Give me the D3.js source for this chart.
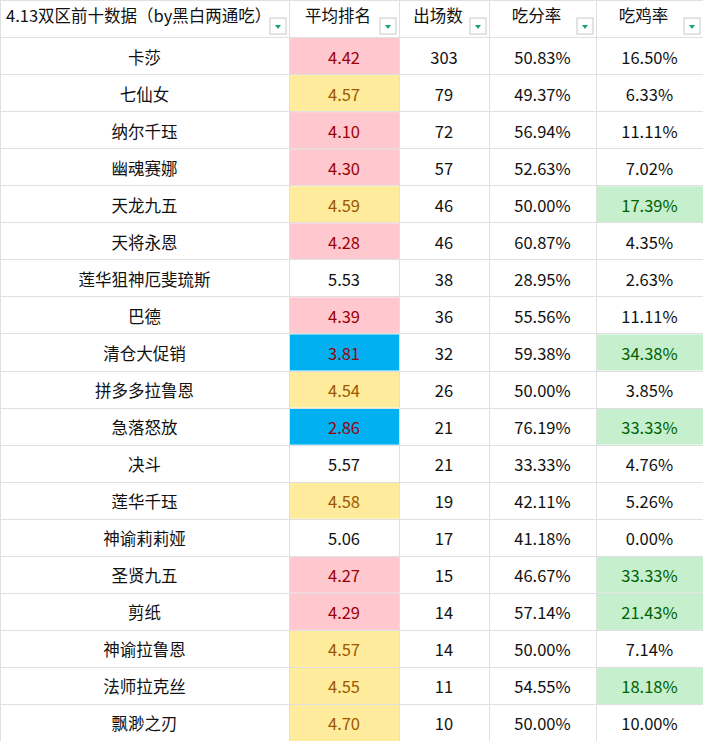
<!DOCTYPE html>
<html><head><meta charset="utf-8">
<script src="https://cdn.jsdelivr.net/npm/d3@7"></script>
<style>body{margin:0;background:#fff}</style>
</head><body>
<svg id="t" width="703" height="741"></svg>
<script>
var headers = ['4.13双区前十数据（by黑白两通吃）', '平均排名', '出场数', '吃分率', '吃鸡率'];
var names = ['卡莎', '七仙女', '纳尔千珏', '幽魂赛娜', '天龙九五', '天将永恩', '莲华狙神厄斐琉斯', '巴德', '清仓大促销', '拼多多拉鲁恩',
  '急落怒放', '决斗', '莲华千珏', '神谕莉莉娅', '圣贤九五', '剪纸', '神谕拉鲁恩', '法师拉克丝', '飘渺之刃'];
var avgRank = [4.42, 4.57, 4.10, 4.30, 4.59, 4.28, 5.53, 4.39, 3.81, 4.54, 2.86, 5.57, 4.58, 5.06, 4.27, 4.29, 4.57, 4.55, 4.70];
var games = [303, 79, 72, 57, 46, 46, 38, 36, 32, 26, 21, 21, 19, 17, 15, 14, 14, 11, 10];
var scoreRate = [50.83, 49.37, 56.94, 52.63, 50.00, 60.87, 28.95, 55.56, 59.38, 50.00, 76.19, 33.33, 42.11, 41.18, 46.67, 57.14, 50.00, 54.55, 50.00];
var winRate = [16.50, 6.33, 11.11, 7.02, 17.39, 4.35, 2.63, 11.11, 34.38, 3.85, 33.33, 4.76, 5.26, 0.00, 33.33, 21.43, 7.14, 18.18, 10.00];

var colEdges = [0, 289, 399, 489, 596, 703];
var svg = d3.select('#t');
var font = '"Noto Sans CJK SC", "Noto Sans", sans-serif';
var y = d3.scaleLinear().domain([0, names.length + 1]).range([0, 741]);
var rh = y(1) - y(0);

// conditional formats
function rankStyle(v) {
  if (v < 4) return {fill: '#00b0f0', color: '#9c0006'};
  if (v < 4.5) return {fill: '#ffc7ce', color: '#9c0006'};
  if (v < 5) return {fill: '#ffeb9c', color: '#9c5700'};
  return null;
}
function winStyle(v) { return v > 17 ? {fill: '#c6efce', color: '#006100'} : null; }

var rows = names.map(function (n, i) {
  return [
    {text: n},
    {text: avgRank[i].toFixed(2), st: rankStyle(avgRank[i])},
    {text: String(games[i])},
    {text: scoreRate[i].toFixed(2) + '%'},
    {text: winRate[i].toFixed(2) + '%', st: winStyle(winRate[i])}
  ];
});

svg.append('defs').append('clipPath').attr('id', 'c0')
  .append('rect').attr('x', 0).attr('y', 0).attr('width', 270).attr('height', rh);

// header
headers.forEach(function (h, j) {
  var x0 = colEdges[j], x1 = colEdges[j + 1];
  var g = svg.append('g');
  g.append('text').attr('x', j == 0 ? 6 : (x0 + x1) / 2 - 6).attr('y', rh / 2 - 4)
    .attr('text-anchor', j == 0 ? 'start' : 'middle').attr('dominant-baseline', 'central')
    .attr('font-family', font).attr('font-size', 16.5).attr('fill', '#111')
    .attr('clip-path', j == 0 ? 'url(#c0)' : null).text(h);
  // filter button
  var bx = x1 - 19, by = rh - 19;
  g.append('rect').attr('x', bx).attr('y', by).attr('width', 16).attr('height', 16)
    .attr('fill', '#fff').attr('stroke', '#c8c8c8');
  g.append('path').attr('d', 'M' + (bx + 5) + ',' + (by + 7) + 'h6l-3,4z').attr('fill', '#1aa36b');
});

// body
rows.forEach(function (r, i) {
  var y0 = y(i + 1);
  r.forEach(function (c, j) {
    var x0 = colEdges[j], x1 = colEdges[j + 1];
    if (c.st) svg.append('rect').attr('x', x0 + 1).attr('y', y0 + 1).attr('width', x1 - x0 - 1).attr('height', rh - 1).attr('fill', c.st.fill);
    svg.append('text').attr('x', (x0 + x1) / 2).attr('y', y0 + rh / 2 + 1)
      .attr('text-anchor', 'middle').attr('dominant-baseline', 'central')
      .attr('font-family', font).attr('font-size', 16.5)
      .attr('fill', c.st ? c.st.color : '#111').text(c.text);
  });
});

// grid
d3.range(names.length + 2).forEach(function (k) {
  svg.append('line').attr('x1', 0).attr('x2', 703).attr('y1', Math.round(y(k)) + 0.5).attr('y2', Math.round(y(k)) + 0.5)
    .attr('stroke', '#e0e0e0');
});
colEdges.forEach(function (x) {
  svg.append('line').attr('x1', x + 0.5).attr('x2', x + 0.5).attr('y1', 0).attr('y2', 741).attr('stroke', '#e0e0e0');
});
</script>
</body></html>
